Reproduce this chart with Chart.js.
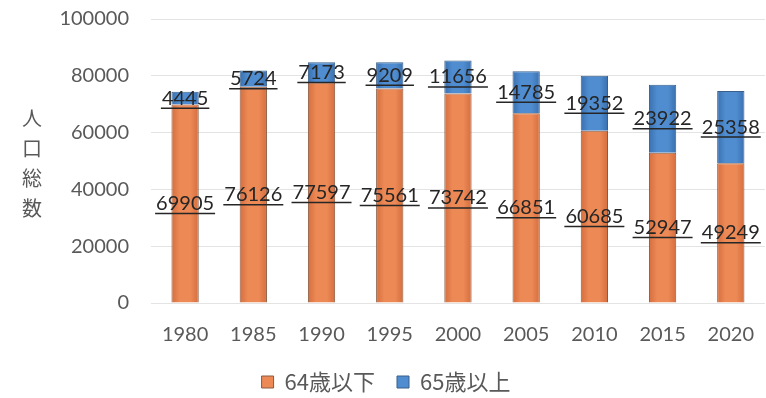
<!DOCTYPE html>
<html>
<head>
<meta charset="utf-8">
<script src="https://cdn.jsdelivr.net/npm/chart.js@4/dist/chart.umd.min.js"></script>
<style>
  html, body { margin: 0; padding: 0; background: #fff; }
  #wrap { width: 766px; height: 398px; }
</style>
</head>
<body>
<div id="wrap"><canvas id="popChart" width="766" height="398"></canvas></div>
<script>
// Population by age group (census years)
const years = ["1980", "1985", "1990", "1995", "2000", "2005", "2010", "2015", "2020"];
const under64 = [69905, 76126, 77597, 75561, 73742, 66851, 60685, 52947, 49249];
const over65 = [4445, 5724, 7173, 9209, 11656, 14785, 19352, 23922, 25358];
const seriesNames = ["64歳以下", "65歳以上"];
const axisTitle = ["人", "口", "総", "数"];

const tickFont = "Lato, 'Noto Sans CJK JP', sans-serif";
const barPct = 0.4;

// Slight left-to-right shading so the bars look bevelled like the original
function barShade(edge, mid) {
  return ctx => {
    const chart = ctx.chart;
    const xs = chart.scales.x;
    if (!xs || ctx.dataIndex === undefined) return mid;
    const cx = xs.getPixelForValue(ctx.dataIndex);
    const half = (xs.width / years.length) * barPct / 2;
    if (!isFinite(cx) || half <= 0) return mid;
    const g = chart.ctx.createLinearGradient(cx - half, 0, cx + half, 0);
    g.addColorStop(0, edge);
    g.addColorStop(0.3, mid);
    g.addColorStop(0.7, mid);
    g.addColorStop(1, edge);
    return g;
  };
}

// Draws the value labels in the middle of each segment, underlined like the original
const segmentLabels = {
  id: "segmentLabels",
  afterDatasetsDraw(chart) {
    const ctx = chart.ctx;
    ctx.save();
    ctx.font = "20px " + tickFont;
    ctx.fillStyle = "#262626";
    ctx.strokeStyle = "#262626";
    ctx.lineWidth = 1.5;
    ctx.textAlign = "center";
    ctx.textBaseline = "middle";
    chart.data.datasets.forEach((ds, di) => {
      const meta = chart.getDatasetMeta(di);
      meta.data.forEach((bar, i) => {
        const txt = String(ds.data[i]);
        const y = (bar.y + bar.base) / 2;
        ctx.fillText(txt, bar.x, y);
        const w = ctx.measureText(txt).width + 2;
        ctx.beginPath();
        ctx.moveTo(bar.x - w / 2, y + 10);
        ctx.lineTo(bar.x + w / 2, y + 10);
        ctx.stroke();
      });
    });
    ctx.restore();
  }
};

// Vertical (stacked characters) axis title
const stackedTitle = {
  id: "stackedTitle",
  afterDraw(chart) {
    const ctx = chart.ctx;
    ctx.save();
    ctx.font = "20px 'Noto Sans CJK JP', sans-serif";
    ctx.fillStyle = "#595959";
    ctx.textAlign = "center";
    ctx.textBaseline = "middle";
    axisTitle.forEach((ch, i) => ctx.fillText(ch, 32, 118 + i * 30));
    ctx.restore();
  }
};

new Chart(document.getElementById("popChart").getContext("2d"), {
  type: "bar",
  data: {
    labels: years,
    datasets: [
      { label: seriesNames[0], data: under64, backgroundColor: barShade("#D56E3E", "#EC8955"), borderColor: "#8A5A40", borderWidth: 1, barPercentage: barPct, categoryPercentage: 1 },
      { label: seriesNames[1], data: over65, backgroundColor: barShade("#3A70B0", "#4F8DD0"), borderColor: "#3A5F8A", borderWidth: 1, barPercentage: barPct, categoryPercentage: 1 }
    ]
  },
  options: {
    responsive: false,
    animation: false,
    layout: { padding: { top: 19, right: 0, left: 6, bottom: -5 } },
    plugins: {
      legend: {
        position: "bottom",
        labels: {
          boxWidth: 12, boxHeight: 12, padding: 22,
          color: "#595959",
          font: { size: 22, family: "'Noto Sans CJK JP', sans-serif" },
          generateLabels(chart) {
            return chart.data.datasets.map((ds, i) => ({
              text: ds.label,
              fillStyle: i === 0 ? "#EC8955" : "#4F8DD0",
              strokeStyle: ds.borderColor,
              lineWidth: 1,
              fontColor: "#595959",
              datasetIndex: i,
              hidden: false
            }));
          }
        }
      },
      tooltip: { enabled: false }
    },
    scales: {
      x: {
        stacked: true,
        afterFit(scale) { scale.height = 46; },
        grid: { display: false },
        border: { display: false },
        ticks: { color: "#595959", padding: 12, font: { size: 20, family: tickFont } }
      },
      y: {
        stacked: true,
        min: 0, max: 100000,
        afterFit(scale) { scale.width = 145; scale.paddingTop = 0; scale.paddingBottom = 0; },
        grid: { color: "#E3E3E3", drawTicks: false },
        border: { display: false },
        ticks: {
          stepSize: 20000, color: "#595959", padding: 22,
          font: { size: 20, family: tickFont },
          callback: v => String(v)
        }
      }
    }
  },
  plugins: [segmentLabels, stackedTitle]
});
</script>
</body>
</html>
